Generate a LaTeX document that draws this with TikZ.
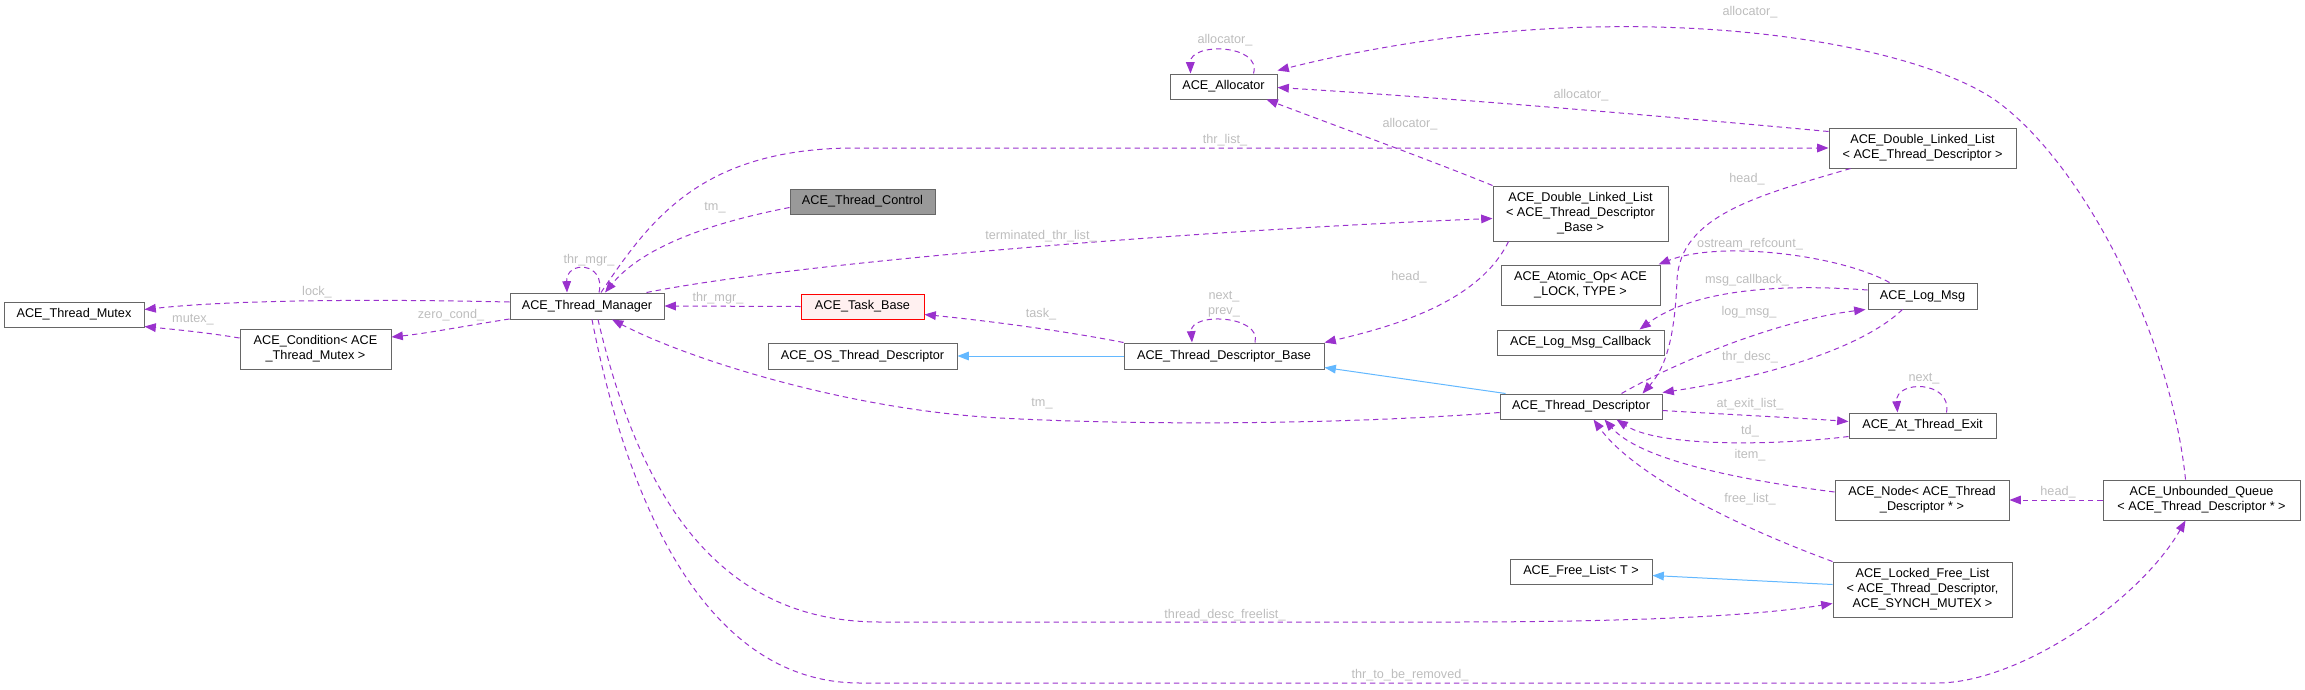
\documentclass[tikz,border=0pt]{standalone}
\usepackage{fontspec}
\setmainfont{Liberation Sans}
\usetikzlibrary{arrows.meta,calc}
\definecolor{edgec}{HTML}{9A32CD}
\definecolor{inhc}{HTML}{63B8FF}
\definecolor{boxc}{HTML}{666666}
\definecolor{lblc}{HTML}{BDBDBD}
\definecolor{ctrlfill}{HTML}{999999}
\definecolor{taskfill}{HTML}{FFF0F0}
\begin{document}
\begin{tikzpicture}[x=0.75pt,y=-0.75pt,font=\fontsize{9.5}{11.2}\selectfont,
  cls/.style={draw=boxc, fill=white, line width=0.75pt, inner sep=0pt, align=center, text=black},
  sz/.style 2 args={minimum width=#1*0.75pt, minimum height=#2*0.75pt},
  lbl/.style={text=lblc, inner sep=0pt},
  dep/.style={draw=edgec, line width=0.75pt, dash pattern=on 4pt off 3pt, -{Triangle[length=8.5pt,width=6.5pt]}},
  inh/.style={draw=inhc, line width=0.75pt, -{Triangle[length=8.5pt,width=6.5pt]}}]
\useasboundingbox (0,0) rectangle (2305,689);
% classes
\node[cls, sz={140}{25}] (mutex) at (74,314.5) {ACE\_Thread\_Mutex};
\node[cls, sz={151}{40}] (cond) at (315.5,349) {ACE\_Condition< ACE\\\_Thread\_Mutex >};
\node[cls, sz={154}{26}] (tm) at (587,306) {ACE\_Thread\_Manager};
\node[cls, sz={145}{25}, fill=ctrlfill] (tc) at (862.5,201.5) {ACE\_Thread\_Control};
\node[cls, sz={123}{25}, draw=red, fill=taskfill] (task) at (862.5,306.5) {ACE\_Task\_Base};
\node[cls, sz={189}{26}] (ostd) at (862.5,356) {ACE\_OS\_Thread\_Descriptor};
\node[cls, sz={200}{26}] (tdb) at (1224,356) {ACE\_Thread\_Descriptor\_Base};
\node[cls, sz={107}{25}] (alloc) at (1223.5,86.5) {ACE\_Allocator};
\node[cls, sz={175}{55}] (dlltdb) at (1580.5,213.5) {ACE\_Double\_Linked\_List\\< ACE\_Thread\_Descriptor\\\_Base >};
\node[cls, sz={187}{40}] (dlltd) at (1922.5,148) {ACE\_Double\_Linked\_List\\< ACE\_Thread\_Descriptor >};
\node[cls, sz={159}{40}] (atomic) at (1580.5,285) {ACE\_Atomic\_Op< ACE\\\_LOCK, TYPE >};
\node[cls, sz={109}{26}] (logmsg) at (1922.5,296) {ACE\_Log\_Msg};
\node[cls, sz={167}{25}] (lmcb) at (1580.5,342.5) {ACE\_Log\_Msg\_Callback};
\node[cls, sz={162}{25}] (td) at (1581,406.5) {ACE\_Thread\_Descriptor};
\node[cls, sz={147}{25}] (ate) at (1922.5,425.5) {ACE\_At\_Thread\_Exit};
\node[cls, sz={174}{40}] (nd) at (1922,500) {ACE\_Node< ACE\_Thread\\\_Descriptor * >};
\node[cls, sz={197}{40}] (ubq) at (2201.5,500) {ACE\_Unbounded\_Queue\\< ACE\_Thread\_Descriptor * >};
\node[cls, sz={142}{25}] (fl) at (1581,571.5) {ACE\_Free\_List< T >};
\node[cls, sz={179}{55}] (lfl) at (1922.5,589.5) {ACE\_Locked\_Free\_List\\< ACE\_Thread\_Descriptor,\\ACE\_SYNCH\_MUTEX >};
% inheritance
\draw[inh] (tdb.west) -- (ostd.east);
\draw[inh] ($(td.north west)+(6,0)$) -- ($(tdb.south east)+(0,-2)$);
\draw[inh] ($(lfl.west)+(0,-5)$) -- ($(fl.east)+(0,4)$);
% usage
\draw[dep] ($(tm.north)+(12,0)$) .. controls (606,262) and (566,260) .. ($(tm.north)+(-20,0)$);
\draw[dep] ($(tm.west)+(0,-4)$) .. controls (420,300) and (250,298) .. ($(mutex.east)+(0,-5)$);
\draw[dep] ($(cond.west)+(0,-11)$) .. controls (210,333) and (180,330) .. ($(mutex.east)+(0,12)$);
\draw[dep] ($(tm.west)+(0,13)$) .. controls (470,325) and (430,333) .. ($(cond.east)+(0,-12)$);
\draw[dep] ($(tc.west)+(0,6)$) .. controls (700,225) and (640,250) .. ($(tm.north)+(18,0)$);
\draw[dep] ($(tm.north)+(14,0)$) .. controls (650,220) and (700,150) .. (850,148) -- (dlltd.west);
\draw[dep] ($(tm.north east)+(-18,0)$) .. controls (800,262) and (1200,230) .. ($(dlltdb.west)+(0,5)$);
\draw[dep] ($(alloc.north)+(30,0)$) .. controls (1262,44) and (1190,42) .. ($(alloc.north)+(-33,0)$);
\draw[dep] (dlltdb.north west) .. controls (1430,160) and (1320,120) .. ($(alloc.south east)+(-11,0)$);
\draw[dep] ($(dlltd.north west)+(0,4)$) .. controls (1650,115) and (1450,98) .. ($(alloc.east)+(0,1)$);
\draw[dep] ($(ubq.north)+(-16,0)$) .. controls (2170,330) and (2080,160) .. (1995,100) .. controls (1900,35) and (1600,-10) .. ($(alloc.north east)+(0,-3)$);
\draw[dep] (task.west) -- (tm.east);
\draw[dep] (tdb.north west) .. controls (1060,330) and (980,320) .. ($(task.east)+(0,8)$);
\draw[dep] ($(tdb.north)+(31,0)$) .. controls (1262,315) and (1190,312) .. ($(tdb.north)+(-32,0)$);
\draw[dep] ($(dlltdb.south west)+(16,0)$) .. controls (1480,300) and (1400,325) .. (tdb.north east);
\draw[dep] ($(td.west)+(0,6)$) .. controls (1350,424) and (1150,426) .. (1000,418) .. controls (850,410) and (690,360) .. ($(tm.south)+(25,0)$);
\draw[dep] ($(dlltd.south west)+(22,0)$) .. controls (1760,195) and (1680,215) .. (1677,280) .. controls (1675,330) and (1668,365) .. ($(td.north east)+(-20,0)$);
\draw[dep] ($(logmsg.north)+(-33,0)$) .. controls (1840,255) and (1720,240) .. ($(atomic.north east)+(-2,0)$);
\draw[dep] ($(logmsg.west)+(0,-6)$) .. controls (1800,285) and (1700,285) .. ($(lmcb.north east)+(-25,0)$);
\draw[dep] ($(td.north east)+(-41,0)$) .. controls (1680,360) and (1780,320) .. ($(logmsg.south west)+(-2,0)$);
\draw[dep] ($(logmsg.south)+(-20,0)$) .. controls (1860,350) and (1760,378) .. ($(td.north east)+(0,-1)$);
\draw[dep] ($(td.east)+(0,4)$) .. controls (1720,414) and (1800,418) .. ($(ate.west)+(0,-4)$);
\draw[dep] ($(ate.west)+(0,11)$) .. controls (1780,445) and (1660,448) .. ($(td.south east)+(-46,0)$);
\draw[dep] ($(ate.north)+(24,0)$) .. controls (1952,380) and (1895,380) .. ($(ate.north)+(-25,0)$);
\draw[dep] ($(nd.west)+(0,-8)$) .. controls (1740,480) and (1640,460) .. ($(td.south east)+(-58,0)$);
\draw[dep] (lfl.north west) .. controls (1720,520) and (1630,470) .. ($(td.south east)+(-69,0)$);
\draw[dep] (ubq.west) -- (nd.east);
\draw[dep] ($(tm.south)+(11,0)$) .. controls (640,500) and (720,622) .. (880,622) -- (1450,622) .. controls (1650,622) and (1760,615) .. ($(lfl.west)+(0,14)$);
\draw[dep] ($(tm.south)+(5,0)$) .. controls (625,490) and (700,683) .. (860,683) -- (1937,683) .. controls (2020,683) and (2140,600) .. ($(ubq.south)+(-16,0)$);
% labels
\node[lbl] (l1) at (589,260) {thr\_mgr\_};
\node[lbl] (l2) at (317,292) {lock\_};
\node[lbl] (l3) at (193,320) {mutex\_};
\node[lbl] (l4) at (451,315) {zero\_cond\_};
\node[lbl] (l5) at (715,208) {tm\_};
\node[lbl] (l6) at (1225,140) {thr\_list\_};
\node[lbl] (l7) at (1041,236) {terminated\_thr\_list\_};
\node[lbl] (l8) at (1225,40) {allocator\_};
\node[lbl] (l9) at (1410,124) {allocator\_};
\node[lbl] (l10) at (1581,95) {allocator\_};
\node[lbl] (l11) at (1750,12) {allocator\_};
\node[lbl] (l12) at (718,298) {thr\_mgr\_};
\node[lbl] (l13) at (1041,314) {task\_};
\node[lbl, align=center] (l14) at (1224,304) {next\_\\prev\_};
\node[lbl] (l15) at (1409,277) {head\_};
\node[lbl] (l16) at (1042,404) {tm\_};
\node[lbl] (l17) at (1747,179) {head\_};
\node[lbl] (l18) at (1750,244) {ostream\_refcount\_};
\node[lbl] (l19) at (1747,280) {msg\_callback\_};
\node[lbl] (l20) at (1749,312) {log\_msg\_};
\node[lbl] (l21) at (1750,357) {thr\_desc\_};
\node[lbl] (l22) at (1750,404) {at\_exit\_list\_};
\node[lbl] (l23) at (1750,431) {td\_};
\node[lbl] (l24) at (1924,379) {next\_};
\node[lbl] (l25) at (1750,455) {item\_};
\node[lbl] (l26) at (1750,499) {free\_list\_};
\node[lbl] (l27) at (2058,492) {head\_};
\node[lbl] (l28) at (1225,615) {thread\_desc\_freelist\_};
\node[lbl] (l29) at (1410,675) {thr\_to\_be\_removed\_};
\end{tikzpicture}
\end{document}
